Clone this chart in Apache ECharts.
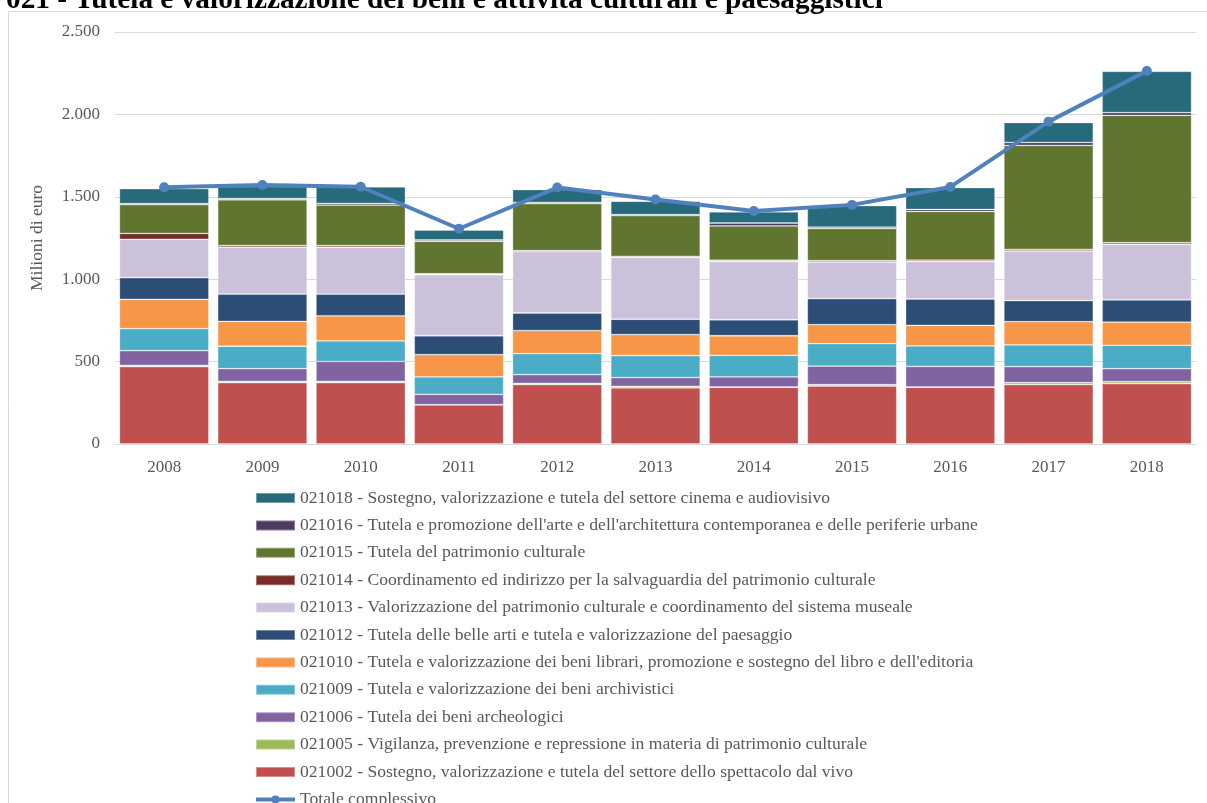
<!DOCTYPE html>
<html>
<head>
<meta charset="utf-8">
<script src="https://cdn.jsdelivr.net/npm/echarts@6/dist/echarts.min.js"></script>
<style>
html,body{margin:0;padding:0;background:#fff;}
#chart{width:1207px;height:803px;}
</style>
</head>
<body>
<div id="chart"></div>
<script>
var years = ['2008','2009','2010','2011','2012','2013','2014','2015','2016','2017','2018'];
var yTicks = [0, 500, 1000, 1500, 2000, 2500];

var s021002 = [469, 372, 372, 237, 360, 340, 344, 352, 344, 360, 366];
var s021005 = [8, 8, 8, 2, 8, 10, 2, 8, 2, 12, 12];
var s021006 = [89, 77, 121, 62, 53, 53, 61, 113, 125, 97, 79];
var s021009 = [134, 136, 125, 106, 127, 133, 131, 136, 124, 132, 142];
var s021010 = [178, 151, 152, 135, 140, 128, 119, 115, 125, 141, 141];
var s021012 = [131, 166, 131, 115, 107, 93, 97, 158, 160, 128, 134];
var s021013 = [233, 285, 285, 370, 372, 376, 354, 222, 228, 301, 338];
var s021014 = [36, 10, 10, 6, 6, 6, 7, 8, 8, 10, 10];
var s021015 = [174, 277, 246, 197, 285, 247, 208, 196, 295, 631, 772];
var s021016 = [6, 8, 10, 8, 8, 6, 18, 8, 12, 18, 17];
var s021018 = [91, 72, 100, 60, 78, 81, 67, 131, 133, 121, 250];
var totale  = [1558, 1572, 1561, 1306, 1556, 1484, 1414, 1451, 1560, 1956, 2263];

var names = {
  s021018: '021018 - Sostegno, valorizzazione e tutela del settore cinema e audiovisivo',
  s021016: "021016 - Tutela e promozione dell'arte e dell'architettura contemporanea e delle periferie urbane",
  s021015: '021015 - Tutela del patrimonio culturale',
  s021014: '021014 - Coordinamento ed indirizzo per la salvaguardia del patrimonio culturale',
  s021013: '021013 - Valorizzazione del patrimonio culturale e coordinamento del sistema museale',
  s021012: '021012 - Tutela delle belle arti e tutela e valorizzazione del paesaggio',
  s021010: "021010 - Tutela e valorizzazione dei beni librari, promozione e sostegno del libro e dell'editoria",
  s021009: '021009 - Tutela e valorizzazione dei beni archivistici',
  s021006: '021006 - Tutela dei beni archeologici',
  s021005: '021005 - Vigilanza, prevenzione e repressione in materia di patrimonio culturale',
  s021002: '021002 - Sostegno, valorizzazione e tutela del settore dello spettacolo dal vivo',
  totale: 'Totale complessivo'
};

var stackOrder = [
  ['s021002', s021002, '#C0504D'],
  ['s021005', s021005, '#9BBB59'],
  ['s021006', s021006, '#8064A2'],
  ['s021009', s021009, '#4BACC6'],
  ['s021010', s021010, '#F79646'],
  ['s021012', s021012, '#2C4D75'],
  ['s021013', s021013, '#CCC1DA'],
  ['s021014', s021014, '#772C2A'],
  ['s021015', s021015, '#5F7530'],
  ['s021016', s021016, '#4D3B62'],
  ['s021018', s021018, '#276A7C']
];

var FONT = '"Liberation Serif", "Times New Roman", serif';
var series = stackOrder.map(function (s) {
  return {
    name: names[s[0]],
    type: 'bar',
    stack: 'tot',
    data: s[1],
    barCategoryGap: '9%',
    itemStyle: { color: s[2], borderColor: 'rgba(255,255,255,0.35)', borderWidth: 0.8 },
    emphasis: { disabled: true }
  };
});
series.push({
  name: names.totale,
  type: 'line',
  data: totale,
  symbol: 'circle',
  symbolSize: 10,
  lineStyle: { color: '#4F81BD', width: 4 },
  itemStyle: { color: '#4F81BD' },
  z: 10
});

var legendOrder = ['s021018','s021016','s021015','s021014','s021013','s021012','s021010','s021009','s021006','s021005','s021002','totale']
  .map(function (k) {
    return k === 'totale'
      ? { name: names[k], lineStyle: { width: 4 } }
      : { name: names[k], icon: 'rect' };
  });

function fmt(v) {
  return String(v).replace(/\B(?=(\d{3})+(?!\d))/g, '.');
}

var chart = echarts.init(document.getElementById('chart'), null, { renderer: 'canvas' });
chart.setOption({
  animation: false,
  backgroundColor: '#fff',
  title: {
    text: '021 - Tutela e valorizzazione dei beni e attività culturali e paesaggistici',
    left: 1,
    top: -19,
    textStyle: { fontFamily: FONT, fontWeight: 'bold', fontSize: 29.3, color: '#000' }
  },
  graphic: [{
    type: 'rect',
    shape: { x: 8.5, y: 11.5, width: 1250, height: 850 },
    style: { fill: 'none', stroke: '#D9D9D9', lineWidth: 1 },
    z: -1
  }],
  grid: { left: 115, right: 11, top: 32, bottom: 359 },
  legend: {
    orient: 'vertical',
    left: 249,
    top: 484,
    height: 420,
    data: legendOrder,
    itemWidth: 39,
    itemHeight: 10,
    itemGap: 9.4,
    textStyle: { fontFamily: FONT, fontSize: 17.6, color: '#595959', lineHeight: 17 },
    selectedMode: false
  },
  xAxis: {
    type: 'category',
    data: years,
    axisLine: { lineStyle: { color: '#D9D9D9', width: 1 } },
    axisTick: { show: false },
    axisLabel: { fontFamily: FONT, fontSize: 17, color: '#595959', margin: 15 }
  },
  yAxis: {
    type: 'value',
    min: yTicks[0],
    max: yTicks[yTicks.length - 1],
    interval: 500,
    name: 'Milioni di euro',
    nameLocation: 'middle',
    nameGap: 69,
    nameTextStyle: { fontFamily: FONT, fontSize: 17.5, color: '#595959' },
    axisLine: { show: false },
    axisTick: { show: false },
    splitLine: { lineStyle: { color: '#D9D9D9', width: 1 } },
    axisLabel: { fontFamily: FONT, fontSize: 17, color: '#595959', margin: 15, formatter: fmt }
  },
  series: series
});
</script>
</body>
</html>
